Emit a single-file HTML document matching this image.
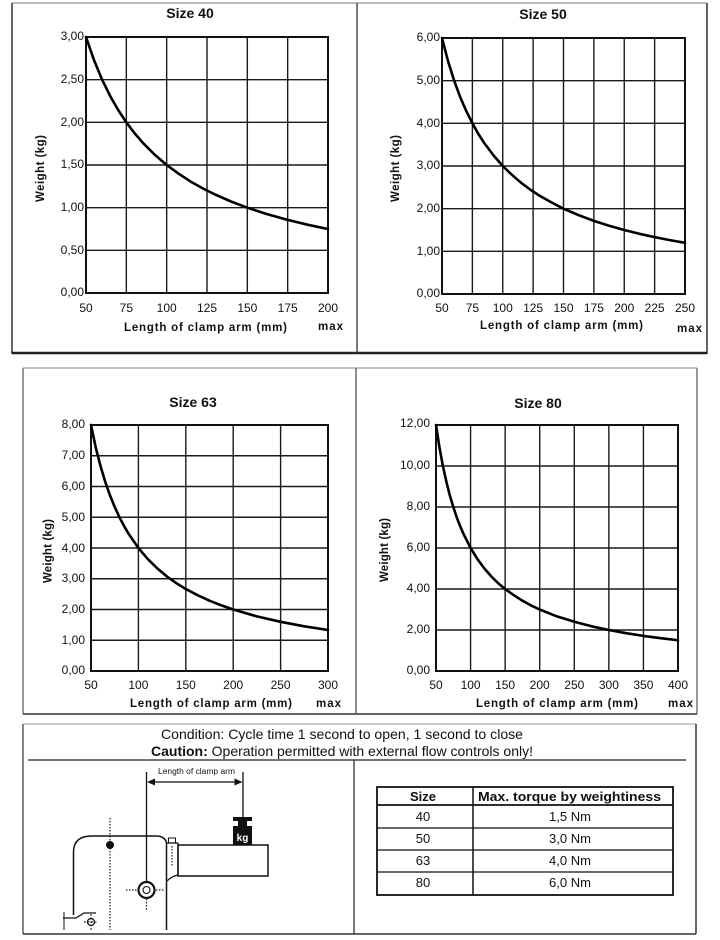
<!DOCTYPE html>
<html>
<head>
<meta charset="utf-8">
<style>
html,body{margin:0;padding:0;background:#fff;}
svg{display:block;}
text{font-family:"Liberation Sans",Arial,sans-serif;fill:#111;}
.t{font-size:12px;}
.l{font-size:11.5px;}
.b{font-weight:bold;}
.g{stroke:#1a1a1a;stroke-width:1.4;fill:none;}
.f{stroke:#111;stroke-width:2;fill:none;}
.c{stroke:#000;stroke-width:2.6;fill:none;stroke-linejoin:round;stroke-linecap:round;}
</style>
</head>
<body>
<svg width="720" height="940" viewBox="0 0 720 940" xmlns="http://www.w3.org/2000/svg">
<rect width="720" height="940" fill="#fff"/>

<!-- ===== TOP BOX ===== -->
<line x1="12" y1="3" x2="707" y2="3" stroke="#777" stroke-width="1"/>
<line x1="12" y1="3" x2="12" y2="354" stroke="#333" stroke-width="1.5"/>
<line x1="707" y1="3" x2="707" y2="354" stroke="#333" stroke-width="1.5"/>
<line x1="12" y1="353" x2="707" y2="353" stroke="#222" stroke-width="2.6"/>
<line x1="357" y1="3" x2="357" y2="353" stroke="#333" stroke-width="1.3"/>

<!-- Chart 1: Size 40 -->
<text x="190" y="18" font-size="14" class="b" text-anchor="middle">Size 40</text>
<g class="g">
<line x1="126.33" y1="37" x2="126.33" y2="293"/><line x1="166.67" y1="37" x2="166.67" y2="293"/>
<line x1="207" y1="37" x2="207" y2="293"/><line x1="247.33" y1="37" x2="247.33" y2="293"/>
<line x1="287.67" y1="37" x2="287.67" y2="293"/>
<line x1="86" y1="79.67" x2="328" y2="79.67"/><line x1="86" y1="122.33" x2="328" y2="122.33"/>
<line x1="86" y1="165" x2="328" y2="165"/><line x1="86" y1="207.67" x2="328" y2="207.67"/>
<line x1="86" y1="250.33" x2="328" y2="250.33"/>
</g>
<rect x="86" y="37" width="242" height="256" class="f"/>
<polyline class="c" points="86,37 94.07,60.3 102.13,79.7 110.2,96.1 118.27,110.1 126.33,122.3 134.4,133 142.47,142.4 154.5,154.5 166.67,165 178.8,173.8 190.87,181.7 203,188.5 215.07,194.5 231,201.5 247.33,207.7 267.5,214.3 287.67,219.9 308,224.8 328,229"/>
<g class="t" text-anchor="end">
<text x="84" y="40">3,00</text><text x="84" y="83">2,50</text><text x="84" y="126">2,00</text>
<text x="84" y="168">1,50</text><text x="84" y="211">1,00</text><text x="84" y="254">0,50</text>
<text x="84" y="296">0,00</text>
</g>
<g class="t" text-anchor="middle">
<text x="86" y="312">50</text><text x="126.33" y="312">75</text><text x="166.67" y="312">100</text>
<text x="207" y="312">125</text><text x="247.33" y="312">150</text><text x="287.67" y="312">175</text>
<text x="328" y="312">200</text>
</g>
<text x="124" y="331" class="l b" textLength="163" lengthAdjust="spacing">Length of clamp arm (mm)</text>
<text x="318" y="330" class="l b" textLength="25" lengthAdjust="spacing">max</text>
<text transform="translate(44,202) rotate(-90)" class="l b" textLength="67" lengthAdjust="spacing">Weight (kg)</text>

<!-- Chart 2: Size 50 -->
<text x="543" y="19" font-size="14" class="b" text-anchor="middle">Size 50</text>
<g class="g">
<line x1="472.375" y1="38" x2="472.375" y2="294"/><line x1="502.75" y1="38" x2="502.75" y2="294"/>
<line x1="533.125" y1="38" x2="533.125" y2="294"/><line x1="563.5" y1="38" x2="563.5" y2="294"/>
<line x1="593.875" y1="38" x2="593.875" y2="294"/><line x1="624.25" y1="38" x2="624.25" y2="294"/>
<line x1="654.625" y1="38" x2="654.625" y2="294"/>
<line x1="442" y1="80.67" x2="685" y2="80.67"/><line x1="442" y1="123.33" x2="685" y2="123.33"/>
<line x1="442" y1="166" x2="685" y2="166"/><line x1="442" y1="208.67" x2="685" y2="208.67"/>
<line x1="442" y1="251.33" x2="685" y2="251.33"/>
</g>
<rect x="442" y="38" width="243" height="256" class="f"/>
<polyline class="c" points="442,38 448.08,61.3 454.15,80.7 460.2,97.1 466.3,111.1 472.4,123.3 478.4,134 484.5,143.4 493.6,155.5 502.75,166 511.9,174.8 521,182.7 530.1,189.5 539.2,195.5 551.4,202.4 563.5,208.7 578.7,215.2 593.9,220.9 609.1,225.7 624.25,230 639.4,233.8 654.6,237.1 669.8,240.1 685,242.8"/>
<g class="t" text-anchor="end">
<text x="440" y="41">6,00</text><text x="440" y="84">5,00</text><text x="440" y="127">4,00</text>
<text x="440" y="169">3,00</text><text x="440" y="212">2,00</text><text x="440" y="255">1,00</text>
<text x="440" y="297">0,00</text>
</g>
<g class="t" text-anchor="middle">
<text x="442" y="312">50</text><text x="472.4" y="312">75</text><text x="502.75" y="312">100</text>
<text x="533.1" y="312">125</text><text x="563.5" y="312">150</text><text x="593.9" y="312">175</text>
<text x="624.25" y="312">200</text><text x="654.6" y="312">225</text><text x="685" y="312">250</text>
</g>
<text x="480" y="329" class="l b" textLength="163" lengthAdjust="spacing">Length of clamp arm (mm)</text>
<text x="677" y="332" class="l b" textLength="25" lengthAdjust="spacing">max</text>
<text transform="translate(399,202) rotate(-90)" class="l b" textLength="67" lengthAdjust="spacing">Weight (kg)</text>

<!-- ===== MIDDLE BOX ===== -->
<line x1="23" y1="368" x2="697" y2="368" stroke="#888" stroke-width="1"/>
<line x1="23" y1="368" x2="23" y2="714" stroke="#555" stroke-width="1.2"/>
<line x1="697" y1="368" x2="697" y2="714" stroke="#555" stroke-width="1.2"/>
<line x1="23" y1="714" x2="697" y2="714" stroke="#333" stroke-width="1.6"/>
<line x1="356" y1="368" x2="356" y2="714" stroke="#444" stroke-width="1.2"/>

<!-- Chart 3: Size 63 -->
<text x="193" y="407" font-size="14" class="b" text-anchor="middle">Size 63</text>
<g class="g">
<line x1="138.4" y1="425" x2="138.4" y2="671"/><line x1="185.8" y1="425" x2="185.8" y2="671"/>
<line x1="233.2" y1="425" x2="233.2" y2="671"/><line x1="280.6" y1="425" x2="280.6" y2="671"/>
<line x1="91" y1="455.75" x2="328" y2="455.75"/><line x1="91" y1="486.5" x2="328" y2="486.5"/>
<line x1="91" y1="517.25" x2="328" y2="517.25"/><line x1="91" y1="548" x2="328" y2="548"/>
<line x1="91" y1="578.75" x2="328" y2="578.75"/><line x1="91" y1="609.5" x2="328" y2="609.5"/>
<line x1="91" y1="640.25" x2="328" y2="640.25"/>
</g>
<rect x="91" y="425" width="237" height="246" class="f"/>
<polyline class="c" points="91,425 95.74,447.4 100.48,466 105.22,481.8 109.96,495.3 114.7,507 119.44,517.25 124.2,526.3 128.92,534.3 138.4,548 147.9,559.2 157.4,568.5 166.84,576.4 176.3,583.2 185.8,589 197.6,595.2 209.5,600.7 221.4,605.4 233.2,609.5 256.9,616.4 280.6,621.8 304.3,626.3 328,630"/>
<g class="t" text-anchor="end">
<text x="85" y="428">8,00</text><text x="85" y="459">7,00</text><text x="85" y="490">6,00</text>
<text x="85" y="521">5,00</text><text x="85" y="552">4,00</text><text x="85" y="582">3,00</text>
<text x="85" y="613">2,00</text><text x="85" y="644">1,00</text><text x="85" y="674">0,00</text>
</g>
<g class="t" text-anchor="middle">
<text x="91" y="689">50</text><text x="138.4" y="689">100</text><text x="185.8" y="689">150</text>
<text x="233.2" y="689">200</text><text x="280.6" y="689">250</text><text x="328" y="689">300</text>
</g>
<text x="130" y="707" class="l b" textLength="162" lengthAdjust="spacing">Length of clamp arm (mm)</text>
<text x="316" y="707" class="l b" textLength="25" lengthAdjust="spacing">max</text>
<text transform="translate(51.5,583) rotate(-90)" class="l b" textLength="64" lengthAdjust="spacing">Weight (kg)</text>

<!-- Chart 4: Size 80 -->
<text x="538" y="408" font-size="14" class="b" text-anchor="middle">Size 80</text>
<g class="g">
<line x1="470.57" y1="425" x2="470.57" y2="671"/><line x1="505.14" y1="425" x2="505.14" y2="671"/>
<line x1="539.71" y1="425" x2="539.71" y2="671"/><line x1="574.29" y1="425" x2="574.29" y2="671"/>
<line x1="608.86" y1="425" x2="608.86" y2="671"/><line x1="643.43" y1="425" x2="643.43" y2="671"/>
<line x1="436" y1="466" x2="678" y2="466"/><line x1="436" y1="507" x2="678" y2="507"/>
<line x1="436" y1="548" x2="678" y2="548"/><line x1="436" y1="589" x2="678" y2="589"/>
<line x1="436" y1="630" x2="678" y2="630"/>
</g>
<rect x="436" y="425" width="242" height="246" class="f"/>
<polyline class="c" points="436,425 439.46,447.4 442.9,466 446.4,481.8 449.8,495.3 453.3,507 456.7,517.25 460.2,526.3 463.7,534.3 470.6,548 477.5,559.2 484.4,568.5 491.3,576.4 498.2,583.2 505.1,589 513.8,595.2 522.4,600.7 531,605.4 539.7,609.5 557,616.4 574.3,621.8 591.6,626.3 608.9,630 626.2,633.2 643.4,635.9 660.7,638.2 678,640.25"/>
<g class="t" text-anchor="end">
<text x="430" y="427">12,00</text><text x="430" y="469">10,00</text><text x="430" y="510">8,00</text>
<text x="430" y="551">6,00</text><text x="430" y="592">4,00</text><text x="430" y="633">2,00</text>
<text x="430" y="674">0,00</text>
</g>
<g class="t" text-anchor="middle">
<text x="436" y="689">50</text><text x="470.6" y="689">100</text><text x="505.1" y="689">150</text>
<text x="539.7" y="689">200</text><text x="574.3" y="689">250</text><text x="608.9" y="689">300</text>
<text x="643.4" y="689">350</text><text x="678" y="689">400</text>
</g>
<text x="476" y="707" class="l b" textLength="162" lengthAdjust="spacing">Length of clamp arm (mm)</text>
<text x="668" y="707" class="l b" textLength="25" lengthAdjust="spacing">max</text>
<text transform="translate(388,582) rotate(-90)" class="l b" textLength="64" lengthAdjust="spacing">Weight (kg)</text>

<!-- ===== BOTTOM BOX ===== -->
<line x1="23" y1="724" x2="696" y2="724" stroke="#999" stroke-width="1"/>
<line x1="23" y1="724" x2="23" y2="934" stroke="#444" stroke-width="1.3"/>
<line x1="696" y1="724" x2="696" y2="934" stroke="#333" stroke-width="1.5"/>
<line x1="23" y1="934" x2="696" y2="934" stroke="#333" stroke-width="1.5"/>
<line x1="28" y1="760" x2="686" y2="760" stroke="#222" stroke-width="1.3"/>
<line x1="354" y1="760" x2="354" y2="934" stroke="#333" stroke-width="1.3"/>

<text x="161" y="739" font-size="14" textLength="362" lengthAdjust="spacingAndGlyphs">Condition: Cycle time 1 second to open, 1 second to close</text>
<text x="151" y="756" font-size="14" textLength="382" lengthAdjust="spacingAndGlyphs"><tspan font-weight="bold">Caution:</tspan> Operation permitted with external flow controls only!</text>

<!-- Diagram -->
<g stroke="#111" fill="none" stroke-width="1.3">
  <line x1="146.5" y1="772" x2="146.5" y2="882"/>
  <line x1="243" y1="772" x2="243" y2="817"/>
  <line x1="152" y1="782" x2="237" y2="782"/>
  <path d="M73.5,915 L73.5,852 Q73.5,836 92,836 L156,836 Q165,836 166.5,843" stroke-width="1.5"/>
  <line x1="166.5" y1="843" x2="166.5" y2="930" stroke-width="1.5"/>
  <line x1="178" y1="843" x2="178" y2="875" stroke-width="1.3"/>
  <line x1="166.5" y1="843" x2="178" y2="843"/>
  <path d="M178,875 Q172,876 167,881"/>
  <rect x="168.5" y="838" width="7" height="5" stroke-width="1"/>
  <rect x="178" y="845" width="90" height="31" stroke-width="1.5"/>
  <path d="M63,918 L76,918 L84,913 L96,913" stroke-width="1.3"/>
  <circle cx="91" cy="922" r="3.5" stroke-width="1.3"/>
  <line x1="84" y1="922" x2="98" y2="922" stroke-dasharray="2,1.5" stroke-width="1"/>
  <line x1="91" y1="914" x2="91" y2="930" stroke-dasharray="2,1.5" stroke-width="1"/>
  <line x1="64" y1="912" x2="64" y2="930" stroke-width="1"/>
</g>
<g stroke="#222" fill="none" stroke-width="1.2" stroke-dasharray="1.5,1.5">
  <line x1="110" y1="818" x2="110" y2="930"/>
  <line x1="126" y1="890" x2="165" y2="890"/>
  <line x1="146.5" y1="899" x2="146.5" y2="910"/>
  <line x1="172" y1="846" x2="172" y2="866"/>
</g>
<polygon points="147,782 155,778.5 155,785.5" fill="#111"/>
<polygon points="242.5,782 234.5,778.5 234.5,785.5" fill="#111"/>
<text x="158" y="774" font-size="8" textLength="77" lengthAdjust="spacingAndGlyphs">Length of clamp arm</text>
<circle cx="110" cy="845" r="4" fill="#111"/>
<circle cx="146.5" cy="890" r="8" fill="#fff" stroke="#111" stroke-width="2.2"/>
<circle cx="146.5" cy="890" r="3.5" fill="none" stroke="#111" stroke-width="1.1"/>
<path d="M233,817 L252,817 L252,821 L247,821 L247,826 L252,826 L252,845 L233,845 L233,826 L238,826 L238,821 L233,821 Z" fill="#111"/>
<text x="242.5" y="841" font-size="10" font-weight="bold" text-anchor="middle" style="fill:#fff">kg</text>

<!-- Table -->
<g stroke="#111" fill="none">
  <rect x="377" y="787" width="296" height="108" stroke-width="1.8"/>
  <line x1="377" y1="805" x2="673" y2="805" stroke-width="1.8"/>
  <line x1="377" y1="828" x2="673" y2="828" stroke-width="1.3"/>
  <line x1="377" y1="850" x2="673" y2="850" stroke-width="1.3"/>
  <line x1="377" y1="872" x2="673" y2="872" stroke-width="1.3"/>
  <line x1="473" y1="787" x2="473" y2="895" stroke-width="1.5"/>
</g>
<text x="423" y="801" font-size="13" font-weight="bold" text-anchor="middle">Size</text>
<text x="478" y="801" font-size="13" font-weight="bold" textLength="183" lengthAdjust="spacingAndGlyphs">Max. torque by weightiness</text>
<g font-size="13" text-anchor="middle">
<text x="423" y="821">40</text><text x="570" y="821">1,5 Nm</text>
<text x="423" y="843">50</text><text x="570" y="843">3,0 Nm</text>
<text x="423" y="865">63</text><text x="570" y="865">4,0 Nm</text>
<text x="423" y="887">80</text><text x="570" y="887">6,0 Nm</text>
</g>
</svg>
</body>
</html>
